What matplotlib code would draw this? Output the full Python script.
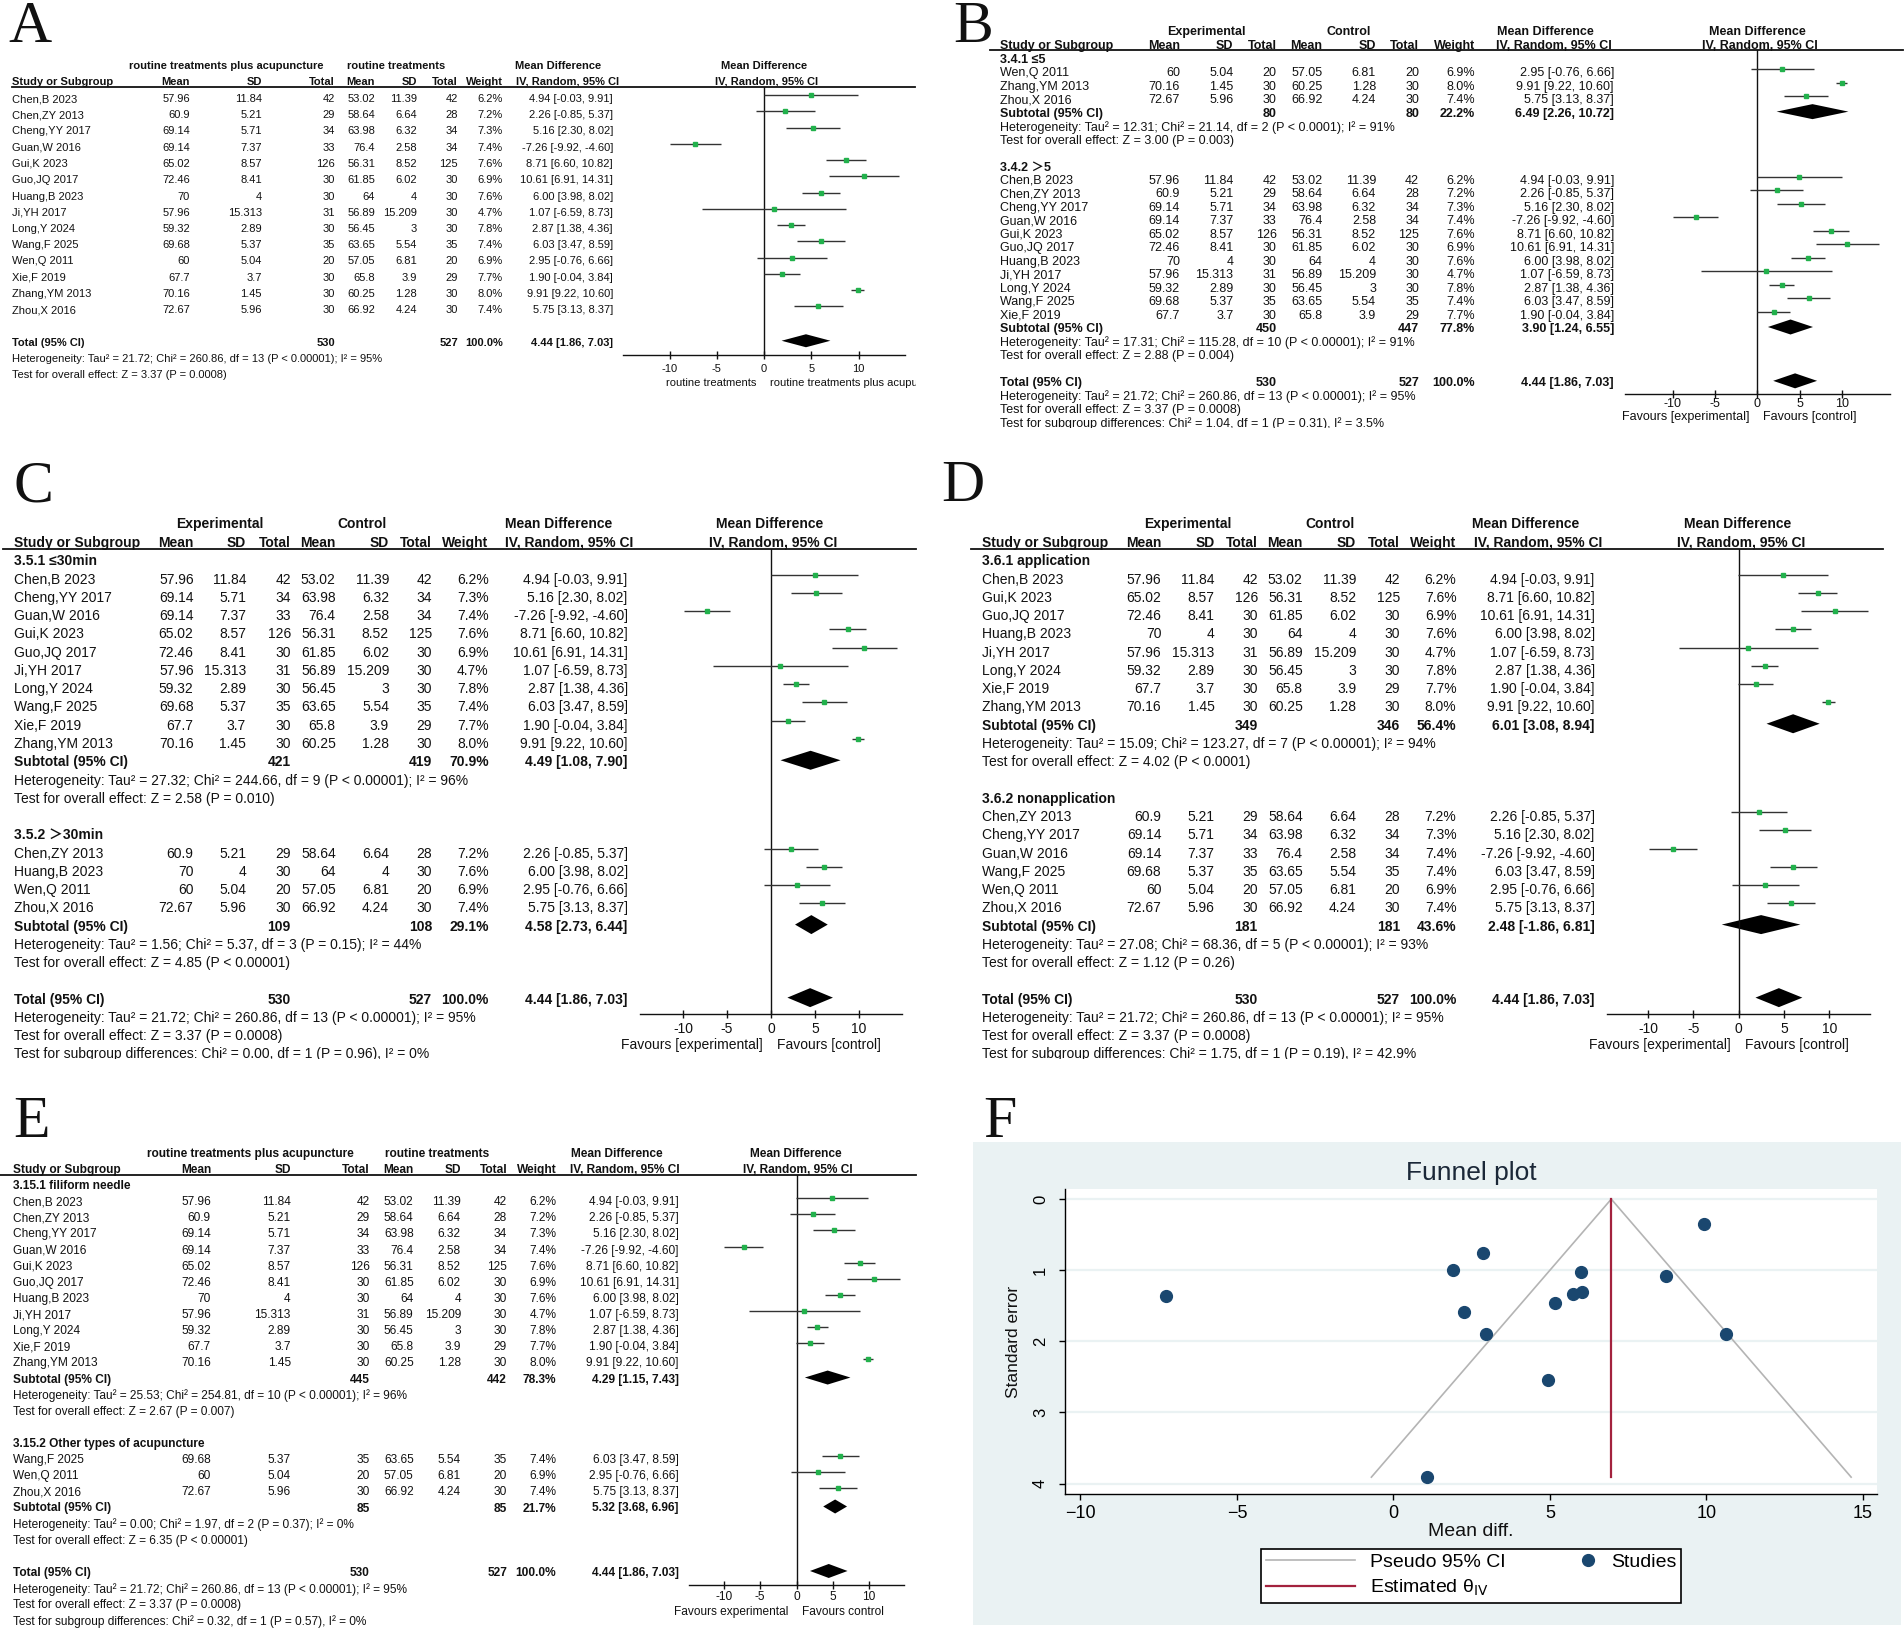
import numpy as np
import matplotlib
matplotlib.use("Agg")
import matplotlib.pyplot as plt
from matplotlib.patches import Rectangle
from matplotlib.lines import Line2D
from matplotlib.transforms import Bbox, TransformedBbox, blended_transform_factory
from matplotlib.legend_handler import HandlerLine2D

W, H = 1904, 1628
SANS = ["Liberation Sans", "DejaVu Sans"]
SANS_CJK = ["Liberation Sans", "Noto Sans CJK SC", "DejaVu Sans"]
SERIF = ["Liberation Serif", "DejaVu Serif"]
TXT = "#111111"
GREEN = "#22b14c"
LINEC = "#333333"

# ---------------- data ----------------
studies = ["Chen,B 2023", "Chen,ZY 2013", "Cheng,YY 2017", "Guan,W 2016", "Gui,K 2023",
           "Guo,JQ 2017", "Huang,B 2023", "Ji,YH 2017", "Long,Y 2024", "Wang,F 2025",
           "Wen,Q 2011", "Xie,F 2019", "Zhang,YM 2013", "Zhou,X 2016"]
exp_mean = [57.96, 60.9, 69.14, 69.14, 65.02, 72.46, 70, 57.96, 59.32, 69.68, 60, 67.7, 70.16, 72.67]
exp_sd = [11.84, 5.21, 5.71, 7.37, 8.57, 8.41, 4, 15.313, 2.89, 5.37, 5.04, 3.7, 1.45, 5.96]
exp_n = [42, 29, 34, 33, 126, 30, 30, 31, 30, 35, 20, 30, 30, 30]
ctl_mean = [53.02, 58.64, 63.98, 76.4, 56.31, 61.85, 64, 56.89, 56.45, 63.65, 57.05, 65.8, 60.25, 66.92]
ctl_sd = [11.39, 6.64, 6.32, 2.58, 8.52, 6.02, 4, 15.209, 3, 5.54, 6.81, 3.9, 1.28, 4.24]
ctl_n = [42, 28, 34, 34, 125, 30, 30, 30, 30, 35, 20, 29, 30, 30]
weight = [6.2, 7.2, 7.3, 7.4, 7.6, 6.9, 7.6, 4.7, 7.8, 7.4, 6.9, 7.7, 8.0, 7.4]
md = [4.94, 2.26, 5.16, -7.26, 8.71, 10.61, 6.00, 1.07, 2.87, 6.03, 2.95, 1.90, 9.91, 5.75]
ci_lo = [-0.03, -0.85, 2.30, -9.92, 6.60, 6.91, 3.98, -6.59, 1.38, 3.47, -0.76, -0.04, 9.22, 3.13]
ci_hi = [9.91, 5.37, 8.02, -4.60, 10.82, 14.31, 8.02, 8.73, 4.36, 8.59, 6.66, 3.84, 10.60, 8.37]

# funnel plot
std_err = [2.54, 1.59, 1.46, 1.36, 1.08, 1.89, 1.03, 3.91, 0.76, 1.31, 1.89, 0.99, 0.35, 1.34]
theta_iv = 6.96

total_stats = (530, 527, 100.0, 4.44, 1.86, 7.03)
total_het = "Heterogeneity: Tau\u00b2 = 21.72; Chi\u00b2 = 260.86, df = 13 (P < 0.00001); I\u00b2 = 95%"
total_test = "Test for overall effect: Z = 3.37 (P = 0.0008)"

# Panel B subgroups
b_groups = [
    ("3.4.1 \u22645", ["Wen,Q 2011", "Zhang,YM 2013", "Zhou,X 2016"],
     (80, 80, 22.2, 6.49, 2.26, 10.72),
     "Heterogeneity: Tau\u00b2 = 12.31; Chi\u00b2 = 21.14, df = 2 (P < 0.0001); I\u00b2 = 91%",
     "Test for overall effect: Z = 3.00 (P = 0.003)"),
    ("3.4.2 \uff1e5", ["Chen,B 2023", "Chen,ZY 2013", "Cheng,YY 2017", "Guan,W 2016", "Gui,K 2023",
                      "Guo,JQ 2017", "Huang,B 2023", "Ji,YH 2017", "Long,Y 2024", "Wang,F 2025", "Xie,F 2019"],
     (450, 447, 77.8, 3.90, 1.24, 6.55),
     "Heterogeneity: Tau\u00b2 = 17.31; Chi\u00b2 = 115.28, df = 10 (P < 0.00001); I\u00b2 = 91%",
     "Test for overall effect: Z = 2.88 (P = 0.004)"),
]
b_subtest = "Test for subgroup differences: Chi\u00b2 = 1.04, df = 1 (P = 0.31), I\u00b2 = 3.5%"

# Panel C subgroups
c_groups = [
    ("3.5.1 \u226430min", ["Chen,B 2023", "Cheng,YY 2017", "Guan,W 2016", "Gui,K 2023", "Guo,JQ 2017",
                          "Ji,YH 2017", "Long,Y 2024", "Wang,F 2025", "Xie,F 2019", "Zhang,YM 2013"],
     (421, 419, 70.9, 4.49, 1.08, 7.90),
     "Heterogeneity: Tau\u00b2 = 27.32; Chi\u00b2 = 244.66, df = 9 (P < 0.00001); I\u00b2 = 96%",
     "Test for overall effect: Z = 2.58 (P = 0.010)"),
    ("3.5.2 \uff1e30min", ["Chen,ZY 2013", "Huang,B 2023", "Wen,Q 2011", "Zhou,X 2016"],
     (109, 108, 29.1, 4.58, 2.73, 6.44),
     "Heterogeneity: Tau\u00b2 = 1.56; Chi\u00b2 = 5.37, df = 3 (P = 0.15); I\u00b2 = 44%",
     "Test for overall effect: Z = 4.85 (P < 0.00001)"),
]
c_subtest = "Test for subgroup differences: Chi\u00b2 = 0.00, df = 1 (P = 0.96), I\u00b2 = 0%"

# Panel D subgroups
d_groups = [
    ("3.6.1 application", ["Chen,B 2023", "Gui,K 2023", "Guo,JQ 2017", "Huang,B 2023", "Ji,YH 2017",
                           "Long,Y 2024", "Xie,F 2019", "Zhang,YM 2013"],
     (349, 346, 56.4, 6.01, 3.08, 8.94),
     "Heterogeneity: Tau\u00b2 = 15.09; Chi\u00b2 = 123.27, df = 7 (P < 0.00001); I\u00b2 = 94%",
     "Test for overall effect: Z = 4.02 (P < 0.0001)"),
    ("3.6.2 nonapplication", ["Chen,ZY 2013", "Cheng,YY 2017", "Guan,W 2016", "Wang,F 2025",
                              "Wen,Q 2011", "Zhou,X 2016"],
     (181, 181, 43.6, 2.48, -1.86, 6.81),
     "Heterogeneity: Tau\u00b2 = 27.08; Chi\u00b2 = 68.36, df = 5 (P < 0.00001); I\u00b2 = 93%",
     "Test for overall effect: Z = 1.12 (P = 0.26)"),
]
d_subtest = "Test for subgroup differences: Chi\u00b2 = 1.75, df = 1 (P = 0.19), I\u00b2 = 42.9%"

# Panel E subgroups
e_groups = [
    ("3.15.1 filiform needle", ["Chen,B 2023", "Chen,ZY 2013", "Cheng,YY 2017", "Guan,W 2016", "Gui,K 2023",
                                "Guo,JQ 2017", "Huang,B 2023", "Ji,YH 2017", "Long,Y 2024", "Xie,F 2019",
                                "Zhang,YM 2013"],
     (445, 442, 78.3, 4.29, 1.15, 7.43),
     "Heterogeneity: Tau\u00b2 = 25.53; Chi\u00b2 = 254.81, df = 10 (P < 0.00001); I\u00b2 = 96%",
     "Test for overall effect: Z = 2.67 (P = 0.007)"),
    ("3.15.2 Other types of acupuncture", ["Wang,F 2025", "Wen,Q 2011", "Zhou,X 2016"],
     (85, 85, 21.7, 5.32, 3.68, 6.96),
     "Heterogeneity: Tau\u00b2 = 0.00; Chi\u00b2 = 1.97, df = 2 (P = 0.37); I\u00b2 = 0%",
     "Test for overall effect: Z = 6.35 (P < 0.00001)"),
]
e_subtest = "Test for subgroup differences: Chi\u00b2 = 0.32, df = 1 (P = 0.57), I\u00b2 = 0%"

a_groups = [(None, studies, None, None, None)]

head_rt = ["routine treatments plus acupuncture", "routine treatments", "Mean Difference", "Mean Difference"]
head_ec = ["Experimental", "Control", "Mean Difference", "Mean Difference"]
fav_rt = ("routine treatments", "routine treatments plus acupuncture")
fav_br = ("Favours [experimental]", "Favours [control]")
fav_pl = ("Favours experimental", "Favours control")
tick_vals = [-10, -5, 0, 5, 10]

# ---------------- layout (pixels) ----------------
LA = dict(letter='A', lx=8, lyb=42, fs=8, sx=12, cols=[190, 262, 335, 375, 417, 458, 503, 613],
          h1x=[226.7, 396, 558, 764], h1y=66, h2y=82, cih=516, fh=767, ly=87, lx0=12, lx1=915,
          ax0=623, ax1=905, zero=764, unit=9.45, axis_y=355, tick_y=368.5, fav_y=382.7,
          y0=99, step=16.25, dh=6.5, moff=4, clip=(0, 0, 916, 440))
LB = dict(letter='B', lx=953, lyb=42, fs=9, sx=1000.5,
          cols=[1180, 1233.5, 1276.7, 1322.4, 1376, 1419, 1475, 1614],
          h1x=[1206, 1348.5, 1545, 1757], h1y=32, h2y=46, cih=1496, fh=1760, ly=50, lx0=989.5, lx1=1903,
          ax0=1625, ax1=1890, zero=1757.4, unit=8.49, axis_y=394.3, tick_y=404.3, fav_y=416.7,
          y0=59.8, step=13.46, dh=7.5, moff=4, clip=(950, 0, 1904, 427.5))
LC = dict(letter='C', lx=13, lyb=501, fs=10, sx=14.4,
          cols=[193.6, 246, 290.8, 335.7, 389, 432, 488.6, 627.7],
          h1x=[219.7, 362, 558.5, 770], h1y=524.3, h2y=542.7, cih=505.4, fh=773.4, ly=548.8, lx0=3, lx1=916,
          ax0=640, ax1=902, zero=771, unit=8.81, axis_y=1013.8, tick_y=1029, fav_y=1045.5,
          y0=561.4, step=18.26, dh=9.5, moff=5, clip=(0, 452, 940, 1059))
LD = dict(letter='D', lx=941, lyb=501, fs=10, sx=981.8,
          cols=[1161.3, 1214.5, 1257.8, 1302.7, 1356.2, 1399.9, 1456.4, 1594.7],
          h1x=[1187.4, 1329.5, 1525.9, 1737.6], h1y=524.3, h2y=542.7, cih=1473.6, fh=1741.4, ly=548.8,
          lx0=970.7, lx1=1882.5, ax0=1607, ax1=1869.5, zero=1738.6, unit=9.07, axis_y=1013.8,
          tick_y=1029, fav_y=1045.5, y0=561.4, step=18.26, dh=9.5, moff=5, clip=(940, 452, 1904, 1059))
LE = dict(letter='E', lx=13, lyb=1137, fs=8.6, sx=13.2,
          cols=[211, 290.8, 369.9, 413.7, 461, 507, 556.4, 678.7],
          h1x=[250.3, 437, 617, 795.9], h1y=1154.2, h2y=1170.3, cih=570, fh=798, ly=1175.1, lx0=0, lx1=916,
          ax0=689.4, ax1=904, zero=796.5, unit=7.26, axis_y=1585.1, tick_y=1597, fav_y=1612.2,
          y0=1186.1, step=16.12, dh=7, moff=4, clip=(0, 1085, 940, 1628))

fig = plt.figure(figsize=(W / 100, H / 100), dpi=100)
fig.patch.set_facecolor("white")


def fx(x):
    return x / W


def fy(y):
    return 1 - y / H


def clip_box(x0, y0, x1, y1):
    return TransformedBbox(Bbox([[fx(x0), fy(y1)], [fx(x1), fy(y0)]]), fig.transFigure)


def make_rows(groups, tstats, thet, ttest, subtest):
    rows = []
    s = 0
    for label, names, sub, het, test in groups:
        if label is not None:
            rows.append(("group", label, s)); s += 1
        for n in names:
            rows.append(("study", studies.index(n), s)); s += 1
        if sub is not None:
            rows.append(("subtotal", sub, s)); s += 1
            rows.append(("text", het, s)); s += 1
            rows.append(("text", test, s)); s += 1
        s += 1
    rows.append(("total", tstats, s)); s += 1
    rows.append(("text", thet, s)); s += 1
    rows.append(("text", ttest, s)); s += 1
    if subtest:
        rows.append(("text", subtest, s))
    return rows


def forest(L, rows, head1, fav):
    fs = L['fs']
    clip = clip_box(*L['clip'])

    def T(x, y, s, bold=False, ha='left', family=SANS):
        t = fig.text(fx(x), fy(y), s, fontsize=fs, fontweight='bold' if bold else 'normal',
                     ha=ha, va='center', family=family, color=TXT)
        t.set_clip_box(clip)
        t.set_clip_on(True)
        return t

    fig.text(fx(L['lx']), fy(L['lyb']), L['letter'], fontsize=43, family=SERIF,
             ha='left', va='baseline', color=TXT)
    for s, x in zip(head1, L['h1x']):
        T(x, L['h1y'], s, bold=True, ha='center')
    T(L['sx'], L['h2y'], "Study or Subgroup", bold=True)
    for s, x in zip(["Mean", "SD", "Total", "Mean", "SD", "Total", "Weight"], L['cols'][:7]):
        T(x, L['h2y'], s, bold=True, ha='right')
    T(L['cih'], L['h2y'], "IV, Random, 95% CI", bold=True)
    T(L['fh'], L['h2y'], "IV, Random, 95% CI", bold=True, ha='center')
    fig.add_artist(Line2D([fx(L['lx0']), fx(L['lx1'])], [fy(L['ly']), fy(L['ly'])],
                          transform=fig.transFigure, color=TXT, lw=1.3))

    ax = fig.add_axes([fx(L['ax0']), fy(L['axis_y']), fx(L['ax1']) - fx(L['ax0']),
                       (L['axis_y'] - L['ly']) / H])
    ax.set_xlim((L['ax0'] - L['zero']) / L['unit'], (L['ax1'] - L['zero']) / L['unit'])
    ax.set_ylim(L['axis_y'], L['ly'])
    ax.patch.set_visible(False)
    for sp in ['top', 'right', 'left']:
        ax.spines[sp].set_visible(False)
    ax.spines['bottom'].set_color(TXT)
    ax.spines['bottom'].set_linewidth(1.0)
    ax.set_yticks([])
    ax.set_xticks(tick_vals)
    ax.set_xticklabels([])
    ax.tick_params(axis='x', direction='inout', length=6, width=1, colors=TXT)
    ax.axvline(0, color=TXT, lw=1.0)
    btr = blended_transform_factory(ax.transData, fig.transFigure)
    for v in tick_vals:
        ax.text(v, fy(L['tick_y']), f"{v}", transform=btr, ha='center', va='center',
                fontsize=fs, family=SANS, color=TXT, clip_on=False)
    T(L['zero'] - 8, L['fav_y'], fav[0], ha='right')
    T(L['zero'] + 6, L['fav_y'], fav[1], ha='left')

    for kind, p, s in rows:
        y = L['y0'] + s * L['step']
        if kind == 'group':
            T(L['sx'], y, p, bold=True, family=SANS_CJK)
        elif kind == 'study':
            i = p
            vals = [f"{exp_mean[i]:g}", f"{exp_sd[i]:g}", f"{exp_n[i]}", f"{ctl_mean[i]:g}",
                    f"{ctl_sd[i]:g}", f"{ctl_n[i]}", f"{weight[i]:.1f}%",
                    f"{md[i]:.2f} [{ci_lo[i]:.2f}, {ci_hi[i]:.2f}]"]
            T(L['sx'], y, studies[i])
            for v, x in zip(vals, L['cols']):
                T(x, y, v, ha='right')
            ym = y - L['moff']
            ax.plot([ci_lo[i], ci_hi[i]], [ym, ym], color=LINEC, lw=1.0, solid_capstyle='butt')
            ax.plot([md[i]], [ym], marker='s', ms=2.6, color=GREEN, mec=GREEN, ls='none')
        elif kind in ('subtotal', 'total'):
            ne, nc, w, m, lo, hi = p
            T(L['sx'], y, "Subtotal (95% CI)" if kind == 'subtotal' else "Total (95% CI)", bold=True)
            T(L['cols'][2], y, f"{ne}", bold=True, ha='right')
            T(L['cols'][5], y, f"{nc}", bold=True, ha='right')
            T(L['cols'][6], y, f"{w:.1f}%", bold=True, ha='right')
            T(L['cols'][7], y, f"{m:.2f} [{lo:.2f}, {hi:.2f}]", bold=True, ha='right')
            yd = y - 2
            h = L['dh']
            ax.fill([lo, m, hi, m], [yd, yd - h, yd, yd + h], color='black', lw=0)
        else:
            T(L['sx'], y, p)
    return ax


forest(LA, make_rows(a_groups, total_stats, total_het, total_test, None), head_rt, fav_rt)
forest(LB, make_rows(b_groups, total_stats, total_het, total_test, b_subtest), head_ec, fav_br)
forest(LC, make_rows(c_groups, total_stats, total_het, total_test, c_subtest), head_ec, fav_br)
forest(LD, make_rows(d_groups, total_stats, total_het, total_test, d_subtest), head_ec, fav_br)
forest(LE, make_rows(e_groups, total_stats, total_het, total_test, e_subtest), head_rt, fav_pl)

# ---------------- Panel F: funnel plot ----------------
fig.text(fx(983), fy(1137), "F", fontsize=43, family=SERIF, ha='left', va='baseline', color=TXT)
fig.add_artist(Rectangle((fx(973), fy(1625)), fx(1901) - fx(973), (1625 - 1142) / H,
                         transform=fig.transFigure, facecolor="#EAF2F3", edgecolor="none", zorder=-5))

fax = fig.add_axes([fx(1065.4), fy(1494.2), fx(1877) - fx(1065.4), (1494.2 - 1188.8) / H])
fax.set_facecolor("white")
fax.set_xlim(-10.48, 15.45)
fax.set_ylim(4.15, -0.145)
fax.set_xticks([-10, -5, 0, 5, 10, 15])
fax.set_yticks([0, 1, 2, 3, 4])
fax.set_axisbelow(True)
fax.grid(axis='y', color="#EAF2F3", lw=1.6)
for sp in ['top', 'right']:
    fax.spines[sp].set_visible(False)
for sp in ['left', 'bottom']:
    fax.spines[sp].set_color("black")
    fax.spines[sp].set_linewidth(1.0)

se_line = np.array([0.0, max(std_err)])
h_ci, = fax.plot(theta_iv - 1.96 * se_line, se_line, color="#b4b4b4", lw=1.2, label="Pseudo 95% CI")
fax.plot(theta_iv + 1.96 * se_line, se_line, color="#b4b4b4", lw=1.2)
h_est, = fax.plot([theta_iv, theta_iv], se_line, color="#a3223e", lw=1.6,
                  label="Estimated \u03b8$_{\\mathrm{IV}}$")
h_st, = fax.plot(md, std_err, 'o', ms=8.5, color="#1a476f", ls='none', label="Studies")

fax.tick_params(axis='x', direction='out', length=4, width=1, labelsize=13, pad=4, colors='black')
fax.tick_params(axis='y', direction='out', length=4, width=1, labelsize=12, pad=8.5, colors='black',
                labelrotation=90)
for lab in fax.get_yticklabels():
    lab.set_va('center')
for lab in fax.get_xticklabels() + fax.get_yticklabels():
    lab.set_family(SANS)

fig.text(fx(1471.7), fy(1173.4), "Funnel plot", ha='center', va='center', fontsize=19,
         family=SANS, color="#1b2838")
fig.text(fx(1471), fy(1531), "Mean diff.", ha='center', va='center', fontsize=14, family=SANS, color=TXT)
fig.text(fx(1014), fy(1341.5), "Standard error", ha='center', va='center', rotation=90,
         fontsize=12.5, family=SANS, color=TXT)


class RightMarker(HandlerLine2D):
    def get_xdata(self, legend, xdescent, ydescent, width, height, fontsize):
        x = -xdescent + width - 0.4 * fontsize
        return np.array([x - 1, x + 1]), np.array([x])


leg = fax.legend(handles=[h_ci, h_est, h_st], ncol=2, loc='center',
                 bbox_to_anchor=(fx(1471), fy(1576)), bbox_transform=fig.transFigure,
                 prop={'family': SANS, 'size': 14}, frameon=True, fancybox=False,
                 edgecolor='black', framealpha=1, handlelength=4.6, handletextpad=0.8,
                 columnspacing=0.0, borderpad=0.25, labelspacing=0.35, borderaxespad=0,
                 handler_map={h_st: RightMarker()})
leg.get_frame().set_linewidth(1.2)

fig.savefig("out.png", dpi=100)
